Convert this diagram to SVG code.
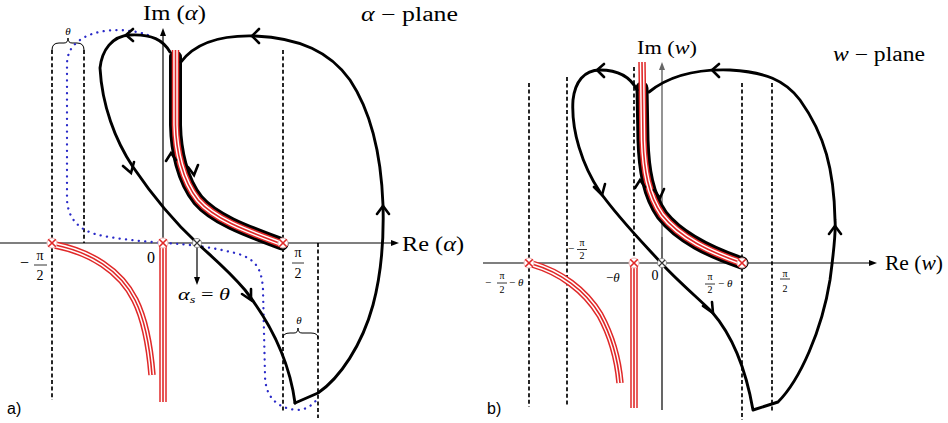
<svg xmlns="http://www.w3.org/2000/svg" xmlns:xlink="http://www.w3.org/1999/xlink" width="948" height="423" viewBox="0 0 948 423">
<defs>
<style>
.ax{stroke:#000;stroke-width:1.2;fill:none}
.axg{stroke:#666;stroke-width:1.4;fill:none}
.dash{stroke:#000;stroke-width:1.7;stroke-dasharray:4 2.6;fill:none}
.ct{stroke:#000;stroke-width:2.9;fill:none;stroke-linejoin:round;stroke-linecap:round}
.ah{stroke:#000;stroke-width:2.6;fill:none;stroke-linecap:round;stroke-linejoin:miter}
.tb{fill:none;stroke:#000;stroke-width:13;stroke-linecap:round}
.r1{fill:none;stroke:#e02828;stroke-width:7.5}
.w1{fill:none;stroke:#fff;stroke-width:4.5}
.r2{fill:none;stroke:#e02828;stroke-width:1.6}
.blue{fill:none;stroke:#2a2ac8;stroke-width:2.3;stroke-dasharray:0.1 6.3;stroke-linecap:round}
.br{fill:none;stroke:#000;stroke-width:1}
.pole circle{fill:#fff;stroke:#f2b8b8;stroke-width:1}
.pole path{stroke:#e02828;stroke-width:1.6;fill:none}
.sad circle{fill:#fff;stroke:#888;stroke-width:1}
.sad path{stroke:#333;stroke-width:1.2;fill:none}
.bar{stroke:#000;stroke-width:0.8}
text{font-family:"Liberation Serif","DejaVu Serif",serif;fill:#000}
.it{font-style:italic}
.sans{font-family:"Liberation Sans",Arial,sans-serif}
</style>
<path id="tA" d="M 175.5 50 L 175.5 125 C 176 150, 182 180, 198 200 C 215 220, 250 232, 282 244"/>
<path id="tAb" d="M 175.5 57 L 175.5 125 C 176 150, 182 180, 198 200 C 215 220, 250 232, 282 244"/>
<path id="cA1" d="M 55 245 C 90 252, 120 270, 135 300 C 145 320, 150 350, 152 375"/>
<path id="cA2" d="M 163 246 L 163 402"/>
<path id="tB" d="M 642 62 L 643 140 C 644 170, 648 195, 662 215 C 680 238, 710 252, 742 263"/>
<path id="tBb" d="M 642 88 L 643 140 C 644 170, 648 195, 662 215 C 680 238, 710 252, 742 263"/>
<path id="cB1" d="M 532 264 C 560 272, 585 290, 600 315 C 612 337, 618 360, 620 383"/>
<path id="cB2" d="M 634 266 L 634 408"/>
<g id="poleMark" class="pole"><circle r="5"/><path d="M -3.8 -3.8 L 3.8 3.8 M -3.8 3.8 L 3.8 -3.8"/></g>
<g id="sadMark" class="sad"><circle r="4.5"/><path d="M -3 -3 L 3 3 M -3 3 L 3 -3"/></g>
</defs>

<!-- ===== Panel a ===== -->
<g id="panel-a">
  <g id="guides-a">
    <path class="dash" d="M 52 50 L 52 400 M 84 50 L 84 243 M 283 50 L 283 412 M 318 243 L 318 418"/>
    <path class="br" d="M 52 50 Q 52 43 59 43 L 64 43 Q 68 43 68 38 Q 68 43 72 43 L 77 43 Q 84 43 84 50"/>
    <path class="br" d="M 283 338 Q 283 333 290 333 L 294 333 Q 298 333 298 328 Q 298 333 302 333 L 311 333 Q 318 333 318 338"/>
  </g>
  <g id="axes-a">
    <path class="ax" d="M 0 243 L 393 243"/>
    <polygon points="399,243 391,240 391,246" fill="#000"/>
    <path class="ax" d="M 163 243 L 163 34"/>
    <polygon points="163,28 160,36 166,36" fill="#000"/>
  </g>
  <g id="blue-a"><path class="blue" d="M 148 35 C 125 27, 95 29, 80 40 C 70 47, 67 55, 67 65 L 67 200 C 68 215, 75 228, 95 234 C 115 239, 140 241, 163 243 C 190 244, 215 248, 235 253 C 255 258, 262 268, 263 290 L 265 375 C 265 395, 275 408, 297 410 C 306 410, 313 405, 318 398"/></g>
  <g id="cuts-a">
    <use xlink:href="#cA1" class="r1"/><use xlink:href="#cA1" class="w1"/><use xlink:href="#cA1" class="r2"/>
    <use xlink:href="#cA2" class="r1"/><use xlink:href="#cA2" class="w1"/><use xlink:href="#cA2" class="r2"/>
    <use xlink:href="#tAb" class="tb"/>
    <use xlink:href="#tA" class="r1"/><use xlink:href="#tA" class="w1"/><use xlink:href="#tA" class="r2"/>
  </g>
  <g id="contour-a">
    <path class="ct" d="M 295 403 L 318 393 C 340 378, 362 345, 373 305 C 381 275, 384 240, 383 205 C 381 150, 370 110, 350 80 C 330 52, 300 38, 255 36 C 222 35, 196 42, 181 62"/>
    <path class="ct" d="M 170 52 C 163 40, 152 34, 130 35 C 112 36, 102 50, 100 68 C 102 105, 115 140, 133 167 C 150 192, 170 218, 197 243 C 212 257, 228 270, 245 290 C 262 312, 288 350, 295 403"/>
    <path class="ah" d="M 377 214 L 383 206 L 389 214 M 259 29 L 252 36 L 259 43 M 133 29 L 126 35 L 133 41 M 123 166 L 131 173 L 134 162 M 242 294 L 251 300 L 251 289 M 166 161 L 171 153 L 176 160 M 188 167 L 194 175 L 198 165"/>
    <path class="ax" d="M 197 243 L 197 280"/>
    <polygon points="197,285 194,277 200,277" fill="#000"/>
  </g>
  <g id="marks-a">
    <use xlink:href="#poleMark" x="52" y="243"/>
    <use xlink:href="#poleMark" x="163" y="243"/>
    <use xlink:href="#poleMark" x="283" y="243"/>
    <use xlink:href="#sadMark" x="197" y="243"/>
  </g>
  <g id="labels-a">
    <text x="143" y="20" font-size="21" textLength="63" lengthAdjust="spacingAndGlyphs">Im (<tspan class="it">α</tspan>)</text>
    <text x="361" y="21" font-size="20" textLength="97" lengthAdjust="spacingAndGlyphs"><tspan class="it">α</tspan> − plane</text>
    <text x="402" y="251" font-size="22" textLength="62" lengthAdjust="spacingAndGlyphs">Re (<tspan class="it">α</tspan>)</text>
    <text x="20" y="268" font-size="16">−</text>
    <text x="40" y="260" font-size="14" text-anchor="middle">π</text>
    <line class="bar" x1="34" y1="265" x2="47" y2="265"/>
    <text x="40" y="280" font-size="14" text-anchor="middle">2</text>
    <text x="151" y="263" font-size="16" text-anchor="middle">0</text>
    <text x="298" y="257" font-size="14" text-anchor="middle">π</text>
    <line class="bar" x1="292" y1="263" x2="304" y2="263"/>
    <text x="298" y="278" font-size="14" text-anchor="middle">2</text>
    <text x="178" y="300" font-size="17" textLength="52" lengthAdjust="spacingAndGlyphs"><tspan class="it">α</tspan><tspan class="it" font-size="11" dy="3">s</tspan><tspan dy="-3"> = </tspan><tspan class="it">θ</tspan></text>
    <text x="68" y="35" font-size="11" class="it" text-anchor="middle">θ</text>
    <text x="299" y="324" font-size="11" class="it" text-anchor="middle">θ</text>
    <text x="7" y="414" font-size="16" class="sans">a)</text>
  </g>
</g>

<!-- ===== Panel b ===== -->
<g id="panel-b">
  <g id="guides-b">
    <path class="dash" d="M 529 83 L 529 407 M 567 77 L 567 407 M 634 67 L 634 263 M 742 83 L 742 420 M 772 83 L 772 412"/>
  </g>
  <g id="axes-b">
    <path class="ax" d="M 483 263 L 871 263"/>
    <polygon points="877,263 869,260 869,266" fill="#000"/>
    <path class="axg" d="M 662 237 L 662 68"/>
    <polygon points="662,62 659,70 665,70" fill="#666"/>
    <path class="ax" d="M 662 237 L 662 410"/>
  </g>
  <g id="cuts-b">
    <use xlink:href="#cB1" class="r1"/><use xlink:href="#cB1" class="w1"/><use xlink:href="#cB1" class="r2"/>
    <use xlink:href="#cB2" class="r1"/><use xlink:href="#cB2" class="w1"/><use xlink:href="#cB2" class="r2"/>
    <use xlink:href="#tBb" class="tb"/>
    <use xlink:href="#tB" class="r1"/><use xlink:href="#tB" class="w1"/><use xlink:href="#tB" class="r2"/>
  </g>
  <g id="contour-b">
    <path class="ct" d="M 637 90 C 630 76, 618 70, 600 70 C 584 70, 575 82, 573 100 C 571 130, 582 165, 600 192 C 620 220, 645 245, 663 265 C 680 283, 700 300, 712 312 C 732 335, 746 370, 753 410 L 778 402 C 800 380, 822 330, 830 280 C 834 250, 836 230, 835 220 C 834 170, 825 135, 800 100 C 785 80, 765 72, 730 70 C 700 69, 670 75, 649 92"/>
    <path class="ah" d="M 604 64 L 597 70 L 604 77 M 594 187 L 602 195 L 605 184 M 719 64 L 712 70 L 719 77 M 829 234 L 835 226 L 841 234 M 703 306 L 713 313 L 712 302 M 635 188 L 640 180 L 645 187 M 654 190 L 660 198 L 664 189"/>
  </g>
  <g id="marks-b">
    <use xlink:href="#poleMark" x="529" y="263"/>
    <use xlink:href="#poleMark" x="634" y="263"/>
    <use xlink:href="#poleMark" x="742" y="263"/>
    <use xlink:href="#sadMark" x="662" y="263"/>
  </g>
  <g id="labels-b">
    <text x="637" y="54" font-size="19" textLength="60" lengthAdjust="spacingAndGlyphs">Im (<tspan class="it">w</tspan>)</text>
    <text x="833" y="61" font-size="20" textLength="92" lengthAdjust="spacingAndGlyphs"><tspan class="it">w</tspan> − plane</text>
    <text x="885" y="270" font-size="22" textLength="58" lengthAdjust="spacingAndGlyphs">Re (<tspan class="it">w</tspan>)</text>
    <text x="485" y="286" font-size="11">−</text>
    <text x="502" y="279" font-size="10" text-anchor="middle">π</text>
    <line class="bar" x1="497" y1="283" x2="507" y2="283"/>
    <text x="502" y="293" font-size="10" text-anchor="middle">2</text>
    <text x="509" y="286" font-size="11">− <tspan class="it">θ</tspan></text>
    <text x="568" y="252" font-size="11">−</text>
    <text x="582" y="246" font-size="10" text-anchor="middle">π</text>
    <line class="bar" x1="577" y1="249.5" x2="587" y2="249.5"/>
    <text x="582" y="259" font-size="10" text-anchor="middle">2</text>
    <text x="606" y="282" font-size="13">−<tspan class="it">θ</tspan></text>
    <text x="655" y="280" font-size="14" text-anchor="middle">0</text>
    <text x="710" y="280" font-size="10" text-anchor="middle">π</text>
    <line class="bar" x1="705" y1="284" x2="715" y2="284"/>
    <text x="710" y="293" font-size="10" text-anchor="middle">2</text>
    <text x="718" y="287" font-size="11">− <tspan class="it">θ</tspan></text>
    <text x="785" y="277" font-size="10" text-anchor="middle">π</text>
    <line class="bar" x1="780" y1="279" x2="790" y2="279"/>
    <text x="785" y="292" font-size="10" text-anchor="middle">2</text>
    <text x="487" y="414" font-size="16" class="sans">b)</text>
  </g>
</g>
</svg>
